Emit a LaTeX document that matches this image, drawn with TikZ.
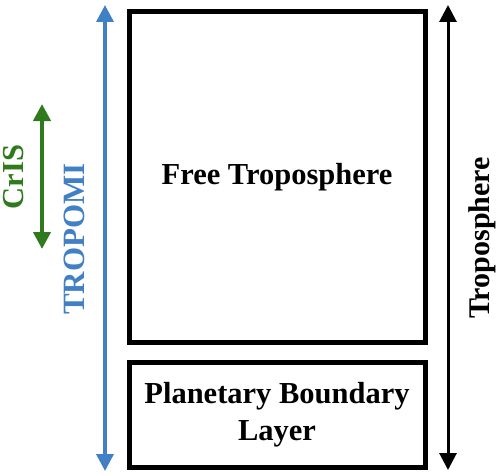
\documentclass[tikz,border=0pt]{standalone}
\usepackage{fontspec}
\setmainfont{Liberation Serif}
\usetikzlibrary{arrows.meta}
\definecolor{tropoblue}{RGB}{66,128,198}
\definecolor{crisgreen}{RGB}{46,122,28}
\begin{document}
\begin{tikzpicture}[x=1pt,y=1pt,line join=miter,font=\bfseries\fontsize{30.5}{37}\selectfont,
	layer/.style={draw,line width=5pt,minimum width=296pt,align=center,inner sep=0pt},
	range/.style={line width=#1,{Triangle[length=17pt,width=17pt]}-{Triangle[length=17pt,width=17pt]}}]
	\useasboundingbox (0,0) rectangle (500,475);
	\node[layer,minimum height=330pt] (FT) at (277,298) {Free Troposphere};
	\node[layer,minimum height=105pt] (PBL) at (277,60.5) {Planetary Boundary\\Layer};
	\path
	(42,371) coordinate (C1)
	(42,226) coordinate (C2)
	(105,470) coordinate (T1)
	(105,4) coordinate (T2)
	(448,470) coordinate (R1)
	(448,5) coordinate (R2)
	;
	\draw[range=4pt,crisgreen] (C1) -- (C2);
	\draw[range=3.5pt,tropoblue] (T1) -- (T2);
	\draw[range=3pt,black] (R1) -- (R2);
	\node[rotate=90,crisgreen] (cris) at (14,298) {CrIS};
	\node[rotate=90,tropoblue,font=\bfseries\fontsize{31}{37}\selectfont] (tropomi) at (74,236) {TROPOMI};
	\node[rotate=90,font=\bfseries\fontsize{30}{37}\selectfont] (tropo) at (482,237) {Troposphere};
\end{tikzpicture}
\end{document}
